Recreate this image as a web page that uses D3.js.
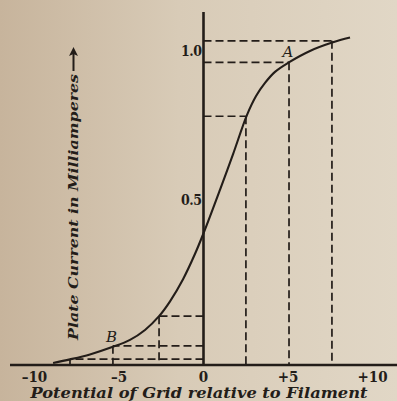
<!DOCTYPE html>
<html><head><meta charset="utf-8">
<script src="https://cdn.jsdelivr.net/npm/d3@7"></script>
<style>
html,body{margin:0;padding:0;overflow:hidden;background:#d8cbb6}
svg{display:block}
</style></head><body>
<script>
// Plate current of a three-electrode valve against grid potential
const gridVolts = [-8.9, -7.9, -6.72, -5.36, -4.35, -3.46, -2.63, -1.98, -1.21, -0.5, 0.03, 0.98, 1.75, 2.57, 3.11, 3.64, 4.23, 5.0, 6.3, 7.66, 8.67];
const plateMA   = [0.006, 0.017, 0.032, 0.055, 0.076, 0.106, 0.148, 0.193, 0.260, 0.337, 0.403, 0.535, 0.654, 0.785, 0.849, 0.893, 0.930, 0.960, 1.0, 1.029, 1.045];

// points projected onto both axes with dashed lines
const guideVolts = [-7.9, -5.36, -2.63, 2.51, 5.06, 7.6];
const guideMA    = [0.018, 0.058, 0.148, 0.781, 0.962, 1.034];

const xTicks = [-10, -5, 0, 5, 10];
const xTickLabels = ["–10", "–5", "0", "+5", "+10"];
const yTicks = [0.5, 1.0];
const yTickLabels = ["0.5", "1.0"];

const markNames = ["A", "B"];
const markVolts = [5.0, -5.45];
const markMA    = [0.962, 0.055];

const xTitle = "Potential of Grid relative to Filament";
const yTitle = "Plate Current in Milliamperes";

const W = 397, H = 401;
const ink = "#231d19";
const serif = "'DejaVu Serif', 'Liberation Serif', serif";

const svg = d3.select("body").append("svg").attr("width", W).attr("height", H);

// paper tone
const defs = svg.append("defs");
const grad = defs.append("linearGradient").attr("id", "paper").attr("x1", 0).attr("x2", 1).attr("y1", 0).attr("y2", 0);
grad.append("stop").attr("offset", "0").attr("stop-color", "#c7b49c");
grad.append("stop").attr("offset", "0.45").attr("stop-color", "#d8cbb7");
grad.append("stop").attr("offset", "1").attr("stop-color", "#e1d7c6");
svg.append("rect").attr("width", W).attr("height", H).attr("fill", "url(#paper)");

const x = d3.scaleLinear().domain([-10, 10]).range([34.5, 372.5]);
const y = d3.scaleLinear().domain([0, 0.5, 1.0]).range([365, 200, 51]);

const x0 = x(0), y0 = y(0);

// dashed projections
const guides = svg.append("g").attr("stroke", ink).attr("stroke-width", 1.7)
  .attr("stroke-dasharray", "8,4").attr("fill", "none");
guideVolts.forEach((v, i) => {
  const gx = x(v), gy = y(guideMA[i]);
  guides.append("line").attr("x1", x0).attr("x2", gx).attr("y1", gy).attr("y2", gy);
  guides.append("line").attr("x1", gx).attr("x2", gx).attr("y1", gy).attr("y2", y0);
});

// axes
svg.append("line").attr("x1", 10).attr("x2", W).attr("y1", y0).attr("y2", y0)
  .attr("stroke", ink).attr("stroke-width", 2.6);
svg.append("line").attr("x1", x0).attr("x2", x0).attr("y1", 12).attr("y2", y0)
  .attr("stroke", ink).attr("stroke-width", 2.6);

// characteristic curve
const pts = gridVolts.map((v, i) => [x(v), y(plateMA[i])]);
svg.append("path").attr("d", d3.line().curve(d3.curveCatmullRom.alpha(0.5))(pts))
  .attr("fill", "none").attr("stroke", ink).attr("stroke-width", 2.1);

// tick labels
svg.append("g").selectAll("text").data(xTicks).join("text")
  .attr("x", d => x(d)).attr("y", 382)
  .attr("text-anchor", "middle")
  .attr("font-family", serif).attr("font-weight", "bold").attr("font-size", 15)
  .attr("font-stretch", "condensed")
  .attr("fill", ink)
  .text((d, i) => xTickLabels[i]);

svg.append("g").selectAll("text").data(yTicks).join("text")
  .attr("x", x0 - 2).attr("y", d => y(d)).attr("dy", "0.36em")
  .attr("text-anchor", "end")
  .attr("font-family", serif).attr("font-weight", "bold").attr("font-size", 14)
  .attr("font-stretch", "condensed").attr("letter-spacing", -0.5)
  .attr("fill", ink)
  .text((d, i) => yTickLabels[i]);

// point letters
svg.append("g").selectAll("text").data(markNames).join("text")
  .attr("x", (d, i) => x(markVolts[i])).attr("y", (d, i) => y(markMA[i]) - 5)
  .attr("text-anchor", "middle")
  .attr("font-family", serif).attr("font-style", "italic").attr("font-size", 15)
  .attr("fill", ink)
  .text(d => d);

// axis titles
svg.append("text").attr("x", 199).attr("y", 398).attr("text-anchor", "middle")
  .attr("font-family", serif).attr("font-weight", "bold").attr("font-style", "italic")
  .attr("font-size", 14).attr("textLength", 337).attr("lengthAdjust", "spacingAndGlyphs")
  .attr("fill", ink).text(xTitle);

const yt = svg.append("g").attr("transform", "translate(78,207) rotate(-90)");
yt.append("text").attr("x", 0).attr("y", 0).attr("text-anchor", "middle")
  .attr("font-family", serif).attr("font-weight", "bold").attr("font-style", "italic")
  .attr("font-size", 13).attr("textLength", 266).attr("lengthAdjust", "spacingAndGlyphs")
  .attr("fill", ink).text(yTitle);
// arrow after the title
yt.append("line").attr("x1", 136).attr("x2", 156).attr("y1", -4.5).attr("y2", -4.5)
  .attr("stroke", ink).attr("stroke-width", 2);
yt.append("path").attr("d", "M160,-4.5 L151,-9 L153,-4.5 L151,0 Z").attr("fill", ink);
</script>
</body></html>
